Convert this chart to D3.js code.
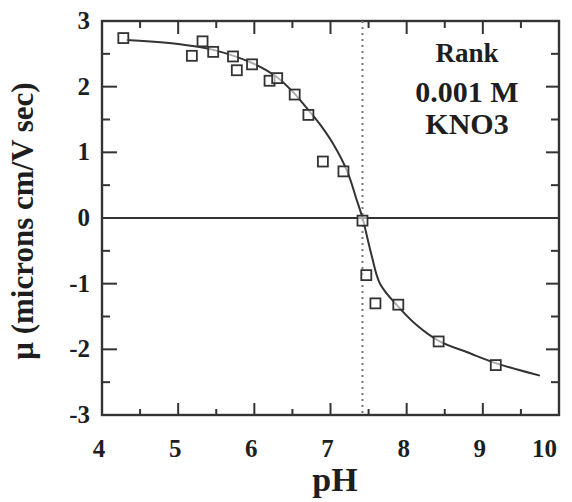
<!DOCTYPE html>
<html><head><meta charset="utf-8">
<script src="https://cdn.jsdelivr.net/npm/d3@7"></script>
<style>body{margin:0;background:#fff}svg{display:block}text{font-family:"Liberation Serif","Times New Roman",serif;font-weight:bold;fill:#1e1e1e}</style>
</head><body><svg id="c" width="572" height="502"></svg>
<script>
const pointsX = [4.28,5.18,5.32,5.46,5.72,5.77,5.97,6.20,6.30,6.53,6.71,6.90,7.17,7.42,7.47,7.59,7.89,8.42,9.17];
const pointsY = [2.74,2.47,2.69,2.53,2.46,2.25,2.34,2.09,2.13,1.88,1.57,0.86,0.71,-0.04,-0.87,-1.30,-1.32,-1.88,-2.24];
const curveX = [4.32,5.0,5.46,5.97,6.29,6.53,6.67,6.86,7.04,7.22,7.34,7.42,7.54,7.65,7.89,8.13,8.42,8.83,9.17,9.75];
const curveY = [2.71,2.65,2.56,2.36,2.15,1.89,1.70,1.43,1.12,0.71,0.29,0.0,-0.57,-1.0,-1.35,-1.63,-1.87,-2.06,-2.21,-2.40];
const xTicks = [4,5,6,7,8,9,10];
const yTicks = [-3,-2,-1,0,1,2,3];
const refPH = 7.42;
const labelLines = ["Rank","0.001 M","KNO3"];

const svg = d3.select("#c");
const x = d3.scaleLinear().domain([4,10]).range([102,559]);
const y = d3.scaleLinear().domain([-3,3]).range([415,21]);
const minorX = d3.range(4.5,10,1);
const minorY = d3.range(-2.5,3,1);
const ink = "#333";

const g = svg.append("g");
// frame: dark panel with white inset
const t = 1.2;
g.append("rect").attr("x",x(4)-t).attr("y",y(3)-t).attr("width",x(10)-x(4)+2*t).attr("height",y(-3)-y(3)+2*t).attr("fill",ink);
g.append("rect").attr("x",x(4)+t).attr("y",y(3)+t).attr("width",x(10)-x(4)-2*t).attr("height",y(-3)-y(3)-2*t).attr("fill","#fff");
// ticks inward
const tk = g.append("g").attr("stroke",ink).attr("stroke-width",2);
xTicks.slice(1,-1).forEach(v=>{
  tk.append("line").attr("x1",x(v)).attr("x2",x(v)).attr("y1",y(-3)).attr("y2",y(-3)-12);
  tk.append("line").attr("x1",x(v)).attr("x2",x(v)).attr("y1",y(3)).attr("y2",y(3)+13);
});
minorX.forEach(v=>{
  tk.append("line").attr("x1",x(v)).attr("x2",x(v)).attr("y1",y(-3)).attr("y2",y(-3)-6);
  tk.append("line").attr("x1",x(v)).attr("x2",x(v)).attr("y1",y(3)).attr("y2",y(3)+7);
});
yTicks.slice(1,-1).forEach(v=>{
  tk.append("line").attr("y1",y(v)).attr("y2",y(v)).attr("x1",x(4)).attr("x2",x(4)+15);
  tk.append("line").attr("y1",y(v)).attr("y2",y(v)).attr("x1",x(10)).attr("x2",x(10)-13);
});
minorY.forEach(v=>{
  tk.append("line").attr("y1",y(v)).attr("y2",y(v)).attr("x1",x(4)).attr("x2",x(4)+8);
  tk.append("line").attr("y1",y(v)).attr("y2",y(v)).attr("x1",x(10)).attr("x2",x(10)-8);
});
// zero line
g.append("line").attr("x1",x(4)).attr("x2",x(10)).attr("y1",y(0)).attr("y2",y(0)).attr("stroke",ink).attr("stroke-width",2.2);
// dotted ref
g.append("line").attr("x1",x(refPH)).attr("x2",x(refPH)).attr("y1",y(3)).attr("y2",y(-3))
  .attr("stroke","#777").attr("stroke-width",2).attr("stroke-dasharray","2,4");
// tick labels
g.selectAll("text.xl").data(xTicks).join("text").attr("class","xl")
  .attr("x",d=>d===10 ? x(d)-2 : x(d)-3).attr("y",457)
  .attr("text-anchor",d=>d===10?"end":"middle")
  .attr("font-size",25).text(d=>d);
g.selectAll("text.yl").data(yTicks).join("text").attr("class","yl")
  .attr("x",90).attr("y",d=>y(d)+8).attr("text-anchor","end")
  .attr("font-size",25).text(d=>d);
// axis titles
svg.append("text").attr("x",335).attr("y",491).attr("text-anchor","middle").attr("font-size",34).text("pH");
svg.append("text").attr("transform","translate(33,221) rotate(-90)").attr("text-anchor","middle").attr("font-size",31)
  .text("\u03bc (microns cm/V sec)");
// curve
const line = d3.line().x(d=>x(d[0])).y(d=>y(d[1])).curve(d3.curveCatmullRom.alpha(0.5));
g.append("path").datum(curveX.map((v,i)=>[v,curveY[i]])).attr("d",line).attr("fill","none").attr("stroke",ink).attr("stroke-width",2);
// points
const s = 10;
g.selectAll("rect.pt").data(pointsX.map((v,i)=>[v,pointsY[i]])).join("rect").attr("class","pt")
  .attr("x",d=>x(d[0])-s/2).attr("y",d=>y(d[1])-s/2).attr("width",s).attr("height",s)
  .attr("fill","#fff").attr("fill-opacity",0.6).attr("stroke",ink).attr("stroke-width",1.8);
// annotation
const annY = [62,102,134], annS = [27,30,30];
labelLines.forEach((t,i)=>{
  svg.append("text").attr("x",467).attr("y",annY[i]).attr("text-anchor","middle").attr("font-size",annS[i]).text(t);
});
</script></body></html>
